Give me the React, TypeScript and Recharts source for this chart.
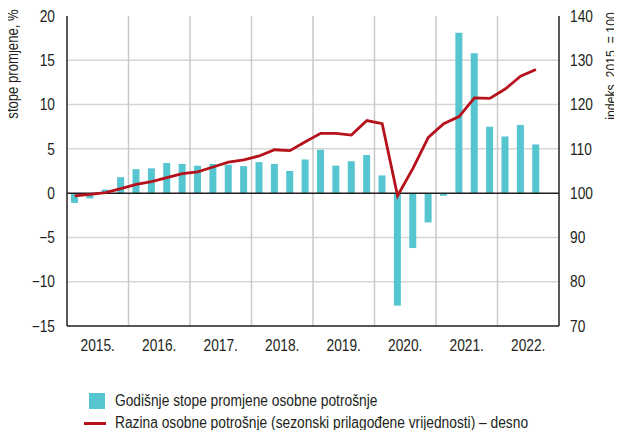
import React from 'react'
import {
  ComposedChart, Bar, Line, XAxis, YAxis, CartesianGrid, ReferenceLine, Label,
} from 'recharts'

// no narrow font installed: squeeze Liberation Sans to get an Arial Narrow look
const FONT = '"Liberation Sans", Arial, sans-serif'
const SQUEEZE = 0.86
const INK = '#231f20'

const years = ['2015', '2016', '2017', '2018', '2019', '2020', '2021', '2022']

const quarters = [
  '2015 Q1', '2015 Q2', '2015 Q3', '2015 Q4',
  '2016 Q1', '2016 Q2', '2016 Q3', '2016 Q4',
  '2017 Q1', '2017 Q2', '2017 Q3', '2017 Q4',
  '2018 Q1', '2018 Q2', '2018 Q3', '2018 Q4',
  '2019 Q1', '2019 Q2', '2019 Q3', '2019 Q4',
  '2020 Q1', '2020 Q2', '2020 Q3', '2020 Q4',
  '2021 Q1', '2021 Q2', '2021 Q3', '2021 Q4',
  '2022 Q1', '2022 Q2', '2022 Q3',
]

// godišnje stope promjene, %
const rates = [
  -1.1, -0.6, 0.4, 1.8,
  2.7, 2.8, 3.4, 3.3,
  3.1, 3.3, 3.2, 3.05,
  3.5, 3.3, 2.5, 3.8,
  4.9, 3.1, 3.6, 4.3,
  2.0, -12.7, -6.2, -3.3,
  -0.3, 18.1, 15.8, 7.5,
  6.4, 7.7, 5.5,
]

// razina, indeks 2015. = 100
const levels = [
  99.4, 99.7, 100.1, 101.0,
  102.0, 102.6, 103.5, 104.4,
  104.8, 105.9, 107.0, 107.5,
  108.4, 109.8, 109.6, 111.6,
  113.5, 113.5, 113.1, 116.4,
  115.7, 99.4, 105.6, 112.6,
  115.7, 117.3, 121.5, 121.4,
  123.5, 126.4, 127.9,
]

const leftTicks = [-15, -10, -5, 0, 5, 10, 15, 20]
const rightTicks = [70, 80, 90, 100, 110, 120, 130, 140]
const gridValues = [-10, -5, 5, 10, 15]

const data = quarters.map((q, i) => ({ q, x: i + 0.5, rate: rates[i], level: levels[i] }))
const slots = years.length * 4
const yearTicks = years.map((_, i) => i * 4 + 2)
const yearBounds = years.slice(1).map((_, i) => (i + 1) * 4)

const fmtNum = (v: number) => (v < 0 ? '\u2212' + Math.abs(v) : String(v))
const fmtYear = (v: number) => years[(v - 2) / 4] + '.'

const BAR = '#55c5d0'
const LINE = '#b5121b'

const narrowTick = (fmt: (v: number) => string, dy: string) => (props: any) => {
  const { x, y, payload, textAnchor } = props
  return (
    <g transform={`translate(${x},${y})`}>
      <text transform={`scale(${SQUEEZE},1)`} textAnchor={textAnchor} dy={dy} fontSize={16} fill={INK} fontFamily={FONT}>
        {fmt(payload.value)}
      </text>
    </g>
  )
}

const rotTitle = (x: number, y: number, size: number, text: string) => () => (
  <text
    transform={`translate(${x},${y}) rotate(-90) scale(0.82,1)`}
    textAnchor="middle"
    dominantBaseline="central"
    fontSize={size}
    fill={INK}
    fontFamily={FONT}
  >
    {text}
  </text>
)

const legendText: React.CSSProperties = {
  display: 'inline-block',
  transform: `scaleX(${SQUEEZE})`,
  transformOrigin: 'left center',
  whiteSpace: 'nowrap',
}

export default function App() {
  return (
    <div style={{ position: 'relative', width: 622, height: 438, margin: -8, background: '#fff', fontFamily: FONT }}>
      <div style={{ position: 'absolute', left: 12, top: 0, width: 610, height: 2, background: '#9d9d9d' }} />
      <ComposedChart width={622} height={438} data={data} margin={{ top: 16, right: 0, bottom: 82, left: 0 }}>
        <CartesianGrid yAxisId="left" vertical={false} horizontalValues={gridValues} stroke="#d6d6d6" strokeWidth={1.5} />
        <CartesianGrid yAxisId="left" horizontal={false} verticalValues={yearBounds} stroke="#c9c9c9" strokeWidth={1.5} />
        <XAxis
          type="number"
          dataKey="x"
          domain={[0, slots]}
          ticks={yearTicks}
          tickLine={false}
          tickSize={6}
          tickMargin={8}
          height={30}
          axisLine={{ stroke: INK, strokeWidth: 1.5 }}
          tick={narrowTick(fmtYear, '0.71em')}
          interval={0}
        />
        <YAxis
          yAxisId="left"
          domain={[-15, 20]}
          ticks={leftTicks}
          width={67}
          tickLine={false}
          tickSize={6}
          tickMargin={6}
          axisLine={{ stroke: INK, strokeWidth: 1.5 }}
          tick={narrowTick(fmtNum, '0.36em')}
          interval={0}
        >
          <Label content={rotTitle(13, 64, 16, 'stope promjene, %')} />
        </YAxis>
        <YAxis
          yAxisId="right"
          orientation="right"
          domain={[70, 140]}
          ticks={rightTicks}
          width={63}
          tickLine={false}
          tickSize={6}
          tickMargin={5}
          axisLine={{ stroke: INK, strokeWidth: 1.5 }}
          tick={narrowTick(fmtNum, '0.36em')}
          interval={0}
        >
          <Label content={rotTitle(611, 66, 15, 'indeks, 2015. = 100')} />
        </YAxis>
        <Bar yAxisId="left" dataKey="rate" fill={BAR} barSize={7} isAnimationActive={false} />
        <ReferenceLine yAxisId="left" y={0} stroke={INK} strokeWidth={1.5} />
        <Line
          yAxisId="right"
          dataKey="level"
          type="linear"
          stroke={LINE}
          strokeWidth={2.8}
          dot={false}
          isAnimationActive={false}
        />
      </ComposedChart>
      <div style={{ position: 'absolute', left: 0, top: 390, fontSize: 16, color: INK, lineHeight: '22px' }}>
        <div style={{ display: 'flex', alignItems: 'center' }}>
          <span style={{ display: 'inline-block', marginLeft: 89, width: 16, height: 16, background: BAR }} />
          <span style={{ ...legendText, marginLeft: 10 }}>Godišnje stope promjene osobne potrošnje</span>
        </div>
        <div style={{ display: 'flex', alignItems: 'center' }}>
          <span style={{ display: 'inline-block', marginLeft: 84, width: 22, height: 3, background: LINE }} />
          <span style={{ ...legendText, marginLeft: 9 }}>Razina osobne potrošnje (sezonski prilagođene vrijednosti) – desno</span>
        </div>
      </div>
    </div>
  )
}
